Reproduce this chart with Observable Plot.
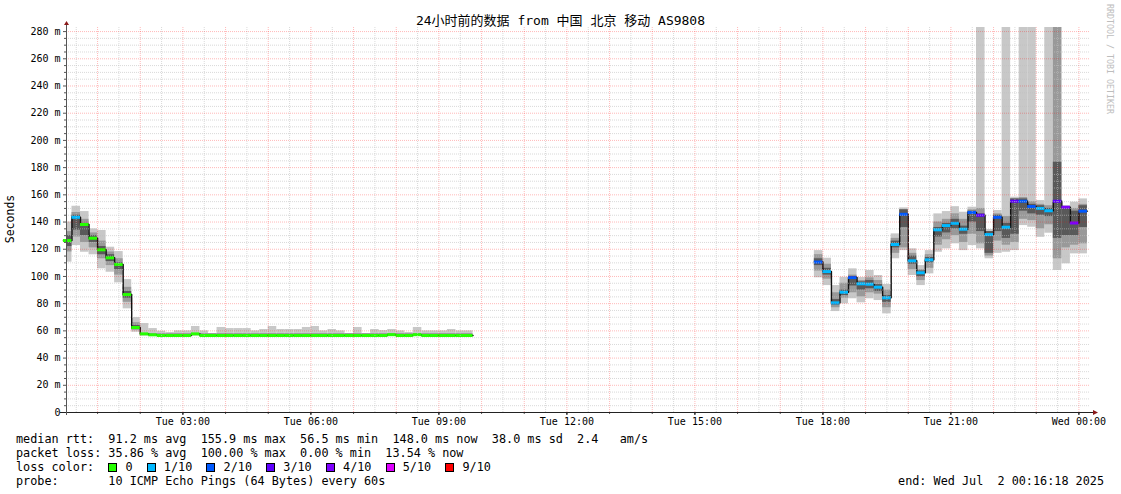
<!DOCTYPE html>
<html><head><meta charset="utf-8">
<script src="https://cdn.jsdelivr.net/npm/d3@7"></script>
<script src="https://cdn.jsdelivr.net/npm/@observablehq/plot@0.6"></script>
<style>
body{margin:0;background:#fff;}
#wrap{position:relative;width:1121px;height:494px;font-family:"DejaVu Sans Mono",monospace;color:#000;overflow:hidden;background:#fff}
#chart{position:absolute;left:0;top:0;z-index:0}
#title{position:absolute;z-index:2;top:12px;left:0;width:1121px;text-align:center;font-size:13px;line-height:18px;white-space:pre;font-family:"DejaVu Sans Mono","Noto Sans CJK SC",monospace}
#ylab{position:absolute;z-index:2;left:10px;top:219px;font-size:11.5px;transform:translate(-50%,-50%) rotate(-90deg);white-space:pre}
#credit{position:absolute;z-index:2;left:1105px;top:4px;font-size:8.3px;color:#bdbdbd;writing-mode:vertical-rl;white-space:pre}
#legend{position:absolute;z-index:2;left:16px;top:432px;font-size:11.8px;line-height:14px;white-space:pre;margin:0;font-family:"DejaVu Sans Mono",monospace}
#end{position:absolute;z-index:2;right:17px;top:474px;font-size:11.8px;line-height:14px;white-space:pre}
.sq{display:inline-block;width:7px;height:7px;border:1px solid #000;vertical-align:-1px;margin-right:1px}
</style></head><body>
<div id="wrap">
  <div id="chart"></div>
  <div id="title"></div>
  <div id="ylab"></div>
  <div id="credit"></div>
  <div id="legend"></div>
  <div id="end"></div>
</div>
<script>
// ---- texts ----
const titleText = "24小时前的数据 from 中国 北京 移动 AS9808";
const yLabel = "Seconds";
const creditText = "RRDTOOL / TOBI OETIKER";
const legendRtt = "median rtt:  91.2 ms avg  155.9 ms max  56.5 ms min  148.0 ms now  38.0 ms sd  2.4   am/s";
const legendLoss = "packet loss: 35.86 % avg  100.00 % max  0.00 % min  13.54 % now";
const legendColorHead = "loss color:  ";
const legendProbe = "probe:       10 ICMP Echo Pings (64 Bytes) every 60s";
const endText = "end: Wed Jul  2 00:16:18 2025";

// ---- axes ----
const startMin = 16.3;   // Tue 00:16:18 (minutes from Tue 00:00)
const endMin = 1456.3;   // Wed 00:16:18
const tickMinutes = [180, 360, 540, 720, 900, 1080, 1260, 1440];
const tickLabels = ["Tue 03:00","Tue 06:00","Tue 09:00","Tue 12:00","Tue 15:00","Tue 18:00","Tue 21:00","Wed 00:00"];
const yTicks = [0,20,40,60,80,100,120,140,160,180,200,220,240,260,280];
const yTop = 283;

// ---- loss legend ----
const lossLevels = [0, 1, 2, 3, 4, 5, 9];
const lossLabels = ["0","1/10","2/10","3/10","4/10","5/10","9/10"];
const lossColors = ["#26ff00","#00b8ff","#0059ff","#5e00ff","#7e00ff","#dd00ff","#ff0000"];

// ---- data: 12-minute bins (bin index k => starts at k*12 minutes after Tue 00:00) ----
const binK = [
  1,2,3,4,5,6,7,8,9,10,11,12,13,14,15,16,17,18,19,20,21,22,23,24,
  25,26,27,28,29,30,31,32,33,34,35,36,37,38,39,40,41,42,43,44,45,46,47,48,
  89,90,91,92,93,94,95,96,97,98,99,100,101,102,103,104,
  105,106,107,108,109,110,111,112,113,114,115,116,117,118,119,120
];
// median rtt (ms)
const med = [
  126.4,143.5,138.2,128.1,119.6,113.7,108.8,86.7,62.5,
  57.8,57.1,56.6,56.6,56.6,56.6,57.8,56.6,56.6,56.6,
  56.6,56.6,56.6,56.6,56.6,56.6,56.6,56.6,56.6,56.6,
  56.6,56.6,56.6,56.6,56.6,56.6,56.6,56.6,56.6,57.2,
  56.6,56.6,57.2,56.6,56.6,56.6,56.6,56.6,56.6,
  110.6,103.6,80.6,88.4,99.2,94.6,94.3,92.1,84.3,123.5,145.7,111.5,102.7,112.2,134.3,137.4,
  139.1,134.7,147.0,145.0,130.8,143.5,136.2,155.3,155.3,151.4,150.0,148.3,155.3,150.9,139.3,148.0
];
// lowest ping
const lo = [
  110.5,122.7,117.8,115.9,105.6,103.1,95.3,76.2,59,
  56.3,56.3,56.3,56.3,56.3,56.3,56.3,56.3,56.3,56.3,
  56.3,56.3,56.3,56.3,56.3,56.3,56.3,56.3,56.3,56.3,
  56.3,56.3,56.3,56.3,56.3,56.3,56.3,56.3,56.3,56.3,
  56.3,56.3,56.3,56.3,56.3,56.3,56.3,56.3,56.3,
  99,93.3,74.2,79.9,83.6,80.6,83.6,82.3,72.5,113,119,100.7,93.3,101.9,117.8,120.3,
  124,119,122.7,120.3,113,117,117.8,119,137.4,136.2,128.8,131.8,104.4,109.3,116.6,116.6
];
// highest ping (values above the chart top are cut off)
const hi = [
  140,151.6,147.7,135,133.8,121.5,118.3,97.7,69.8,
  65.4,61.7,59.8,58.8,60,60,63.2,60,58,62.5,
  61.7,61.7,61.7,60,61,63.2,61,61,61,62.5,
  63.2,60,61,60,58,62.5,58,61,60.2,61,
  60,58.8,62.5,60,60,60,61,60,60,
  119,113.4,93.3,99.4,105.6,99.2,104.4,100.7,94.1,131.3,150.4,120.3,108,119,146,147.7,
  151.3,147.2,150.9,300,134.5,148.5,300,158.3,300,300,155.8,300,300,152,154.6,157
];
// middle smoke band
const midLo = [
  118,129,125,121,113,108,101,81,60.5,
  56.5,56.5,56.5,56.5,56.5,56.5,56.5,56.5,56.5,56.5,
  56.5,56.5,56.5,56.5,56.5,56.5,56.5,56.5,56.5,56.5,
  56.5,56.5,56.5,56.5,56.5,56.5,56.5,56.5,56.5,56.5,
  56.5,56.5,56.5,56.5,56.5,56.5,56.5,56.5,56.5,
  104,98,77,84,88,85,88,87,77,117,121,105,97,106,123,127,
  130,125,131,124,115,126,123,125,142,141,135,138,113,121,123,124
];
const midHi = [
  133,147,142,132,126,118,113,92,66,
  58,58,58,58,58,58,58,58,58,58,
  58,58,58,58,58,58,58,58,58,58,
  58,58,58,58,58,58,58,58,58,58,
  58,58,58,58,58,58,58,58,58,
  116,109,88,95,101,97,99,97,90,128,149,117,105,116,140,142,
  146,142,149,150,133,146,144,157,158,155,153,152,300,151,150,153
];
// dark core band
const coreLo = [
  122,134,130,125,116,111,105,84,61,
  null,null,null,null,null,null,null,null,null,null,
  null,null,null,null,null,null,null,null,null,null,
  null,null,null,null,null,null,null,null,null,null,
  null,null,null,null,null,null,null,null,null,
  108,101,79,86,93,90,91,89,81,121,136,109,100,110,129,132,
  135,131,140,133,117,133,128,131,148,146,145,144,128,130,130,136
];
const coreHi = [
  130,145,139,130,122,116,110,89,64,
  null,null,null,null,null,null,null,null,null,null,
  null,null,null,null,null,null,null,null,null,null,
  null,null,null,null,null,null,null,null,null,null,
  null,null,null,null,null,null,null,null,null,
  113,106,83,90,100,96,97,94,86,126,149,115,104,114,136,139,
  142,137,148,146,133,145,139,157,157,153,152,150,184,151,148,152
];
// lost pings out of 10
const loss = [
  0,1,0,0,0,0,0,0,0,
  0,0,0,0,0,0,0,0,0,0,
  0,0,0,0,0,0,0,0,0,0,
  0,0,0,0,0,0,0,0,0,0,
  0,0,0,0,0,0,0,0,0,
  2,1,1,1,2,1,1,1,1,1,2,1,1,1,1,1,
  1,1,2,3,1,2,1,3,2,2,1,1,3,4,4,2
];

// ---- build table ----
let seg = 0;
const bars = binK.map((k, i) => {
  if (i > 0 && k !== binK[i - 1] + 1) seg++;
  return {t0: k * 12, t1: k * 12 + 12, med: med[i], lo: lo[i], hi: hi[i],
    midLo: midLo[i], midHi: midHi[i], coreLo: coreLo[i], coreHi: coreHi[i], loss: loss[i], seg};
});
const stepPts = [];
bars.forEach((b, i) => {
  stepPts.push({t: b.t0, v: b.med, seg: b.seg});
  const nx = bars[i + 1];
  if (!nx || nx.seg !== b.seg) stepPts.push({t: b.t1, v: b.med, seg: b.seg});
});
const coreBars = bars.filter(b => b.coreLo != null);

const minorX = d3.range(30, endMin, 60);
const majorX = d3.range(60, endMin, 60);
const minorY = d3.range(5, yTop, 5).filter(v => v % 20 !== 0);
const majorY = d3.range(20, yTop, 20);

const gridMinor = {stroke: "#c0c0c0", strokeOpacity: 0.6, strokeDasharray: "1,1"};
const gridMajor = {stroke: "#ff0000", strokeOpacity: 0.28, strokeDasharray: "1,1"};

const plot = Plot.plot({
  width: 1121, height: 430,
  marginLeft: 66, marginRight: 31, marginTop: 27, marginBottom: 18,
  style: {fontFamily: "DejaVu Sans Mono, monospace", fontSize: "10px", color: "#000", background: "transparent", overflow: "visible"},
  x: {type: "linear", domain: [startMin, endMin], axis: null},
  y: {domain: [0, yTop], axis: null},
  color: {type: "ordinal", domain: lossLevels, range: lossColors},
  marks: [
    Plot.rect(bars, {x1: "t0", x2: "t1", y1: "lo", y2: "hi", fill: "#c8c8c8", clip: true}),
    Plot.rect(bars, {x1: "t0", x2: "t1", y1: "midLo", y2: "midHi", fill: "#999999", clip: true}),
    Plot.rect(coreBars, {x1: "t0", x2: "t1", y1: "coreLo", y2: "coreHi", fill: "#595959", clip: true}),
    Plot.line(stepPts, {x: "t", y: "v", z: "seg", curve: "step-after", stroke: "#111", strokeWidth: 1.4}),
    Plot.ruleY(bars, {y: "med", x1: "t0", x2: "t1", stroke: "loss", strokeWidth: 3}),
    Plot.ruleX(minorX, gridMinor),
    Plot.ruleY(minorY, gridMinor),
    Plot.ruleX(majorX, gridMajor),
    Plot.ruleY(majorY, gridMajor),
    Plot.axisY({ticks: minorY, tickSize: 2, tickFormat: () => "", stroke: "#555"}),
    Plot.axisY({ticks: yTicks, tickSize: 3, tickPadding: 3, tickFormat: d => d === 0 ? "0" : d + " m", label: null, stroke: "#555"}),
    Plot.axisX({ticks: majorX, tickSize: 2, tickFormat: () => "", stroke: "#555"}),
    Plot.axisX({ticks: tickMinutes, tickSize: 3, tickPadding: 2, tickFormat: d => tickLabels[tickMinutes.indexOf(d)], label: null})
  ]
});
document.getElementById("chart").appendChild(plot);

// axis lines with arrowheads
const sx = plot.scale("x").range, sy = plot.scale("y").range;
const xa = sx[0], xb = sx[1], yb = sy[0], ya = sy[1];
const svg = d3.select(plot);
svg.append("line").attr("x1", xa - 6).attr("x2", xb + 3).attr("y1", yb + 0.5).attr("y2", yb + 0.5).attr("stroke", "#222");
svg.append("line").attr("x1", xa + 0.5).attr("x2", xa + 0.5).attr("y1", yb + 3).attr("y2", ya - 2).attr("stroke", "#555");
svg.append("polygon").attr("points", `${xb+3},${yb-2} ${xb+8},${yb+0.5} ${xb+3},${yb+3}`).attr("fill", "#8b1a1a");
svg.append("polygon").attr("points", `${xa-2},${ya-2} ${xa+0.5},${ya-6} ${xa+3},${ya-2}`).attr("fill", "#8b1a1a");

// texts
document.getElementById("title").textContent = titleText;
document.getElementById("ylab").textContent = yLabel;
document.getElementById("credit").textContent = creditText;
document.getElementById("end").textContent = endText;
const lg = document.getElementById("legend");
function addLine(txt) { const d = document.createElement("div"); d.textContent = txt; lg.appendChild(d); return d; }
addLine(legendRtt);
addLine(legendLoss);
const colorLine = addLine(legendColorHead);
lossLabels.forEach((lab, i) => {
  const s = document.createElement("span"); s.className = "sq"; s.style.background = lossColors[i];
  colorLine.appendChild(s);
  colorLine.appendChild(document.createTextNode(" " + lab + "  "));
});
addLine(legendProbe);
</script>
</body></html>
